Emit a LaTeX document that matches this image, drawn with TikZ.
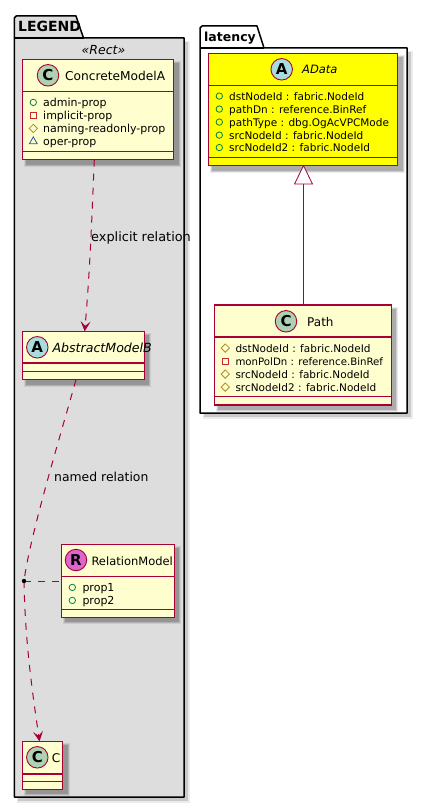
\documentclass[tikz,border=0pt]{standalone}
\usepackage{fontspec}
\setmainfont{DejaVu Sans}
\usetikzlibrary{shapes.geometric,arrows.meta,calc}
\definecolor{umlborder}{HTML}{A80036}
\definecolor{umlfill}{HTML}{FEFECE}
\definecolor{umlyellow}{HTML}{FFFF00}
\definecolor{pkggray}{HTML}{DDDDDD}
\definecolor{spotC}{HTML}{ADD1B2}
\definecolor{spotA}{HTML}{A9DCDF}
\definecolor{spotR}{HTML}{DD66CC}
\definecolor{icopub}{HTML}{038048}
\definecolor{icopriv}{HTML}{C82930}
\definecolor{icoprot}{HTML}{B38D22}
\definecolor{icopkg}{HTML}{1963A0}
\newcommand{\fsz}[1]{\fontsize{#1}{#1}\selectfont}
\tikzset{
  x=1pt,y=-1pt,
  umlboxstyle/.style={draw=umlborder,line width=1.1pt,anchor=north west,inner sep=0pt,outer sep=0pt},
  umlline/.style={draw=umlborder,line width=1.1pt},
  spot/.style={circle,draw=umlborder,line width=0.9pt,minimum size=21.5pt,inner sep=0pt,font=\fsz{15}\bfseries},
  titletext/.style={anchor=base west,inner sep=0pt},
  rowtext/.style={anchor=base west,inner sep=0pt,font=\fsz{10.5}},
  edgelabel/.style={anchor=base west,inner sep=0pt},
  pkgtitle/.style={anchor=base west,inner sep=0pt},
  iconpub/.style={circle,draw=icopub,line width=0.8pt,minimum size=6.4pt,inner sep=0pt},
  iconpriv/.style={rectangle,draw=icopriv,line width=0.8pt,minimum size=5.6pt,inner sep=0pt},
  iconprot/.style={diamond,draw=icoprot,line width=0.8pt,minimum size=8.6pt,inner sep=0pt},
  iconpkg/.style={regular polygon,regular polygon sides=3,draw=icopkg,line width=0.8pt,minimum size=9pt,inner sep=0pt},
  relline/.style={draw=umlborder,line width=1pt,dash pattern=on 7pt off 7pt},
  relarrow/.style={-{Stealth[length=10pt,width=10pt,inset=4.5pt,color=umlborder]}},
  pkgline/.style={draw=black,line width=1.5pt,line join=round},
}
\newcommand{\softshadow}[4]{%
  \fill[black,opacity=0.08] (#1+2,#2+2) rectangle (#3+7,#4+7);
  \fill[black,opacity=0.12] (#1+3,#2+3) rectangle (#3+6,#4+6);
  \fill[black,opacity=0.16] (#1+4,#2+4) rectangle (#3+5,#4+5);
}
% name x1 y1 x2 y2 sep1 sep2 fill
\newcommand{\umlbox}[8]{%
  \softshadow{#2}{#3}{#4}{#5}
  \pgfmathsetmacro{\bw}{#4-(#2)}\pgfmathsetmacro{\bh}{#5-(#3)}
  \node[umlboxstyle,fill=#8,minimum width=\bw pt,minimum height=\bh pt] (#1) at (#2,#3) {};
  \draw[umlline] (#2,#6) -- (#4,#6);
  \draw[umlline] (#2,#7) -- (#4,#7);
}
% name icon iconx textx baseline text
\newcommand{\umlrow}[6]{%
  \node[#2] (#1i) at (#3,#5-3.9) {};
  \node[rowtext] (#1) at (#4,#5) {#6};
}
\begin{document}
\begin{tikzpicture}
\useasboundingbox (0,0) rectangle (427,808);
\fill[white] (0,0) rectangle (427,808);

% LEGEND package
\fill[black,opacity=0.08] (17,41) rectangle (190,803);
\fill[black,opacity=0.14] (18,42) rectangle (188,801);
\fill[pkggray] (14.3,38) -- (14.3,18) -- (16.3,16) -- (76,16) -- (83.5,38) -- (184,38) -- (184,797) -- (14.3,797) -- cycle;
\draw[pkgline] (14.3,38) -- (14.3,18) -- (16.3,16) -- (76,16) -- (83.5,38) -- (184,38) -- (184,797) -- (14.3,797) -- cycle;
\draw[pkgline] (14.3,38) -- (83.5,38);
\node[pkgtitle,font=\fsz{14}\bfseries] (legendtitle) at (18,32) {LEGEND};
\node[anchor=base,inner sep=0pt,font=\fsz{12.5}\itshape] (stereo) at (103.5,54.5) {«Rect»};

% latency package
\fill[black,opacity=0.08] (203,51) rectangle (413,419);
\fill[black,opacity=0.14] (204,52) rectangle (411,417);
\fill[white] (200,48) -- (200,28) -- (202,26) -- (257,26) -- (264,48) -- (407,48) -- (407,413) -- (200,413) -- cycle;
\draw[pkgline] (200,48) -- (200,28) -- (202,26) -- (257,26) -- (264,48) -- (407,48) -- (407,413) -- (200,413) -- cycle;
\draw[pkgline] (200,48) -- (264,48);
\node[pkgtitle,font=\fsz{12.5}\bfseries] (latencytitle) at (204,42) {latency};

% ConcreteModelA
\umlbox{cma}{22.3}{59.5}{173.7}{159.7}{91.3}{151.3}{umlfill}
\node[spot,fill=spotC] (cmaspot) at (48,75.3) {C};
\node[titletext,font=\fsz{12.2}] (cmatitle) at (65,80) {ConcreteModelA};
\umlrow{cmaA}{iconpub}{33.3}{43}{106.3}{\fsz{11}admin-prop}
\umlrow{cmaB}{iconpriv}{33.3}{43}{119.3}{\fsz{11}implicit-prop}
\umlrow{cmaC}{iconprot}{33.3}{43}{132.3}{\fsz{11}naming-readonly-prop}
\umlrow{cmaD}{iconpkg}{33.3}{43}{145.3}{\fsz{11}oper-prop}

% AbstractModelB
\umlbox{amb}{22.3}{331.3}{144.3}{379.7}{363}{371.3}{umlfill}
\node[spot,fill=spotA] (ambspot) at (37.3,347.3) {A};
\node[titletext,font=\fsz{12.6}\itshape] (ambtitle) at (52.3,352) {AbstractModelB};

% RelationModel
\umlbox{rel}{61.3}{544.3}{174.3}{617.3}{576.7}{609.3}{umlfill}
\node[spot,fill=spotR] (relspot) at (76,560) {R};
\node[titletext,font=\fsz{11.5}] (reltitle) at (91.3,565) {RelationModel};
\umlrow{relA}{iconpub}{72.3}{82.3}{591.3}{\fsz{11}prop1}
\umlrow{relB}{iconpub}{72.3}{82.3}{604.3}{\fsz{11}prop2}

% C
\umlbox{cc}{22.3}{741.3}{62.7}{789.3}{774}{781.7}{umlfill}
\node[spot,fill=spotC] (ccspot) at (37.3,757.3) {C};
\node[titletext,font=\fsz{12}] (cctitle) at (51.7,762) {C};

% AData
\umlbox{adata}{208.3}{53.3}{397.7}{165.7}{85.7}{157.3}{umlyellow}
\node[spot,fill=spotA] (adataspot) at (281.7,69.3) {A};
\node[titletext,font=\fsz{11.5}\itshape] (adatatitle) at (302,74) {AData};
\umlrow{adA}{iconpub}{219.3}{229}{100}{dstNodeId : fabric.NodeId}
\umlrow{adB}{iconpub}{219.3}{229}{113}{pathDn : reference.BinRef}
\umlrow{adC}{iconpub}{219.3}{229}{126}{pathType : dbg.OgAcVPCMode}
\umlrow{adD}{iconpub}{219.3}{229}{139}{srcNodeId : fabric.NodeId}
\umlrow{adE}{iconpub}{219.3}{229}{151.5}{srcNodeId2 : fabric.NodeId}

% Path
\umlbox{path}{214.3}{305}{391.3}{405}{337}{396.7}{umlfill}
\node[spot,fill=spotC] (pathspot) at (286,321.3) {C};
\node[titletext,font=\fsz{12}] (pathtitle) at (307,326) {Path};
\umlrow{paA}{iconprot}{225.3}{235.3}{352}{dstNodeId : fabric.NodeId}
\umlrow{paB}{iconpriv}{225.3}{235.3}{365}{\fsz{10.2}monPolDn : reference.BinRef}
\umlrow{paC}{iconprot}{225.3}{235.3}{378}{srcNodeId : fabric.NodeId}
\umlrow{paD}{iconprot}{225.3}{235.3}{391}{srcNodeId2 : fabric.NodeId}

% Connectors
\coordinate (cmaout) at (94.3,159.7);
\coordinate (ambin) at (84.7,331.3);
\draw[relline,relarrow] (cmaout) .. controls (92,215) and (90,270) .. (ambin);
\node[edgelabel,font=\fsz{12.9}] (explbl) at (91,241) {explicit relation};

\coordinate (ambout) at (76,379.7);
\coordinate (ccin) at (39.5,741.3);
\coordinate (mid) at (24,581);
\draw[relline] (ambout) .. controls (62,430) and (30,535) .. (mid);
\draw[relline,relarrow] (mid) .. controls (25,640) and (32,690) .. (ccin);
\draw[relline] (mid) -- (rel.west |- mid);
\fill[black] (mid) circle (2.2);
\node[edgelabel,font=\fsz{12.4}] (namedlbl) at (54,481) {named relation};

% Generalization
\coordinate (pathout) at (303.5,305);
\coordinate (apex) at (303.5,165.7);
\draw[umlline,line width=0.8pt] (pathout) -- (303.5,184);
\draw[umlline,line width=0.8pt,fill=white] (apex) -- (312.5,184) -- (294.5,184) -- cycle;
\end{tikzpicture}
\end{document}
